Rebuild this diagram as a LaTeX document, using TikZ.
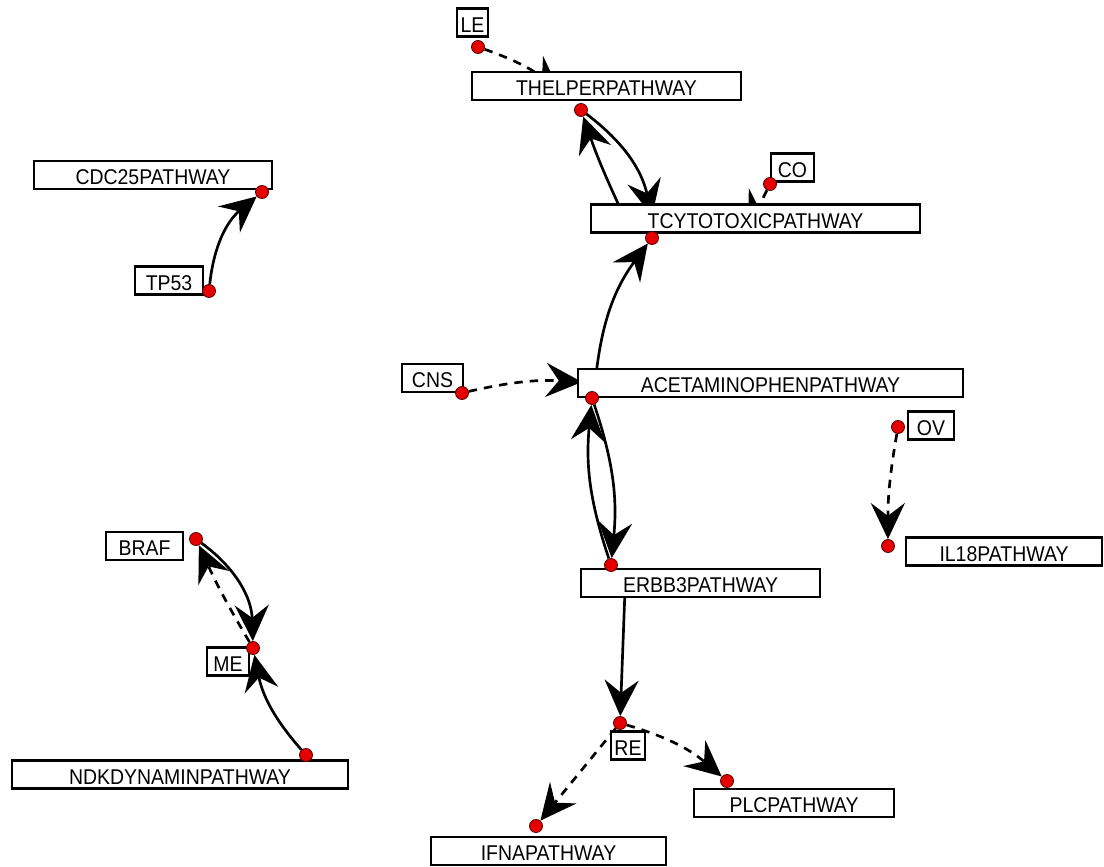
\documentclass[tikz,border=0pt]{standalone}
\usepackage{fontspec}
\setmainfont{Liberation Sans}[FakeStretch=0.91]
\usetikzlibrary{arrows.meta}
\pgfdeclarelayer{back}
\pgfsetlayers{back,main}
\def\px{0.025cm}

\tikzset{
  pbox/.style={draw, fill=white, line width=1.6pt, inner sep=0pt,
    minimum height=28*\px, minimum width=#1*\px,
    text height=14.2pt, text depth=0pt,
    font=\fontsize{15.2}{16}\selectfont},
  pdot/.style={circle, draw=red!35!black, fill=red!90!black,
    line width=0.6pt, inner sep=0pt, minimum size=13*\px},
  link/.style={line width=1.9pt,
    -{Stealth[length=0.9cm,width=0.85cm,inset=0.32cm]}},
  dlink/.style={link, dash pattern=on 6pt off 5pt}
}

\begin{document}
\begin{tikzpicture}[x=\px, y=-\px]
\useasboundingbox (0,0) rectangle (1104,867);

% boxes
\node[pbox=31]  (le)      at (472.5,22.5) {LE};
\node[pbox=269] (thelper) at (606.5,86)   {THELPERPATHWAY};
\node[pbox=43]  (co)      at (792.5,167.5){CO};
\node[pbox=329] (tcyto)   at (755.5,218.5){TCYTOTOXICPATHWAY};
\node[pbox=238] (cdc)     at (153,175)    {CDC25PATHWAY};
\node[pbox=68]  (tp)      at (169,280.5)  {TP53};
\node[pbox=61]  (cns)     at (432.5,378)  {CNS};
\node[pbox=385] (acet)    at (770.5,383)  {ACETAMINOPHENPATHWAY};
\node[pbox=46]  (ov)      at (931,425.5)  {OV};
\node[pbox=196] (il)      at (1004,551.5) {IL18PATHWAY};
\node[pbox=77]  (braf)    at (144.5,546)  {BRAF};
\node[pbox=42]  (me)      at (228,661.5)  {ME};
\node[pbox=336] (ndk)     at (180,774.5)  {NDKDYNAMINPATHWAY};
\node[pbox=239] (erbb)    at (700.5,583)  {ERBB3PATHWAY};
\node[pbox=34]  (re)      at (628,745.5)  {RE};
\node[pbox=200] (plc)     at (794,803)    {PLCPATHWAY};
\node[pbox=235] (ifna)    at (548.5,851)  {IFNAPATHWAY};

% dots
\node[pdot] (dle)      at (478,47)  {};
\node[pdot] (dthelper) at (581,110) {};
\node[pdot] (dco)      at (770,184) {};
\node[pdot] (dtcyto)   at (652,238) {};
\node[pdot] (dcdc)     at (262,192) {};
\node[pdot] (dtp)      at (209,291) {};
\node[pdot] (dcns)     at (462,393) {};
\node[pdot] (dacet)    at (592,398) {};
\node[pdot] (dov)      at (898,427) {};
\node[pdot] (dil)      at (888,546) {};
\node[pdot] (dbraf)    at (196,539) {};
\node[pdot] (dme)      at (253,648) {};
\node[pdot] (dndk)     at (306,755) {};
\node[pdot] (derbb)    at (611,565) {};
\node[pdot] (dre)      at (620,723) {};
\node[pdot] (dplc)     at (727,781) {};
\node[pdot] (difna)    at (536,826) {};

% ends hidden behind boxes
\coordinate (thelperin) at (560,92);
\coordinate (tcytoinA)  at (652,216);
\coordinate (tcytoinB)  at (622,212);
\coordinate (tcytoinC)  at (748,228);
\coordinate (acetinA)   at (582,382);
\coordinate (acetinB)   at (596,375);
\coordinate (erbbin)    at (625,590);

\begin{pgfonlayer}{back}
\draw[dlink] (dle) to[bend left=10] (thelperin);
\draw[link] (dthelper) to[bend left=20] (tcytoinA);
\draw[link] (tcytoinB) to[bend left=3] (dthelper);
\draw[dlink] (dco) -- (tcytoinC);
\draw[link] (acetinB) to[bend left=15] (dtcyto);
\draw[dlink] (dcns) to[bend left=8] (acetinA);
\draw[link] (dacet) to[bend left=12] (derbb);
\draw[link] (derbb) to[bend left=12] (dacet);
\draw[link] (erbbin) -- (dre);
\draw[dlink] (dre) to[bend left=12] (dplc);
\draw[dlink] (dre) -- (difna);
\draw[dlink] (dov) to[bend right=5] (dil);
\draw[link] (dtp) to[bend left=22] (dcdc);
\draw[link] (dbraf) to[bend left=26] (dme);
\draw[dlink] (dme) to[bend left=3] (dbraf);
\draw[link] (dndk) to[bend left=15] (dme);
\end{pgfonlayer}
\end{tikzpicture}
\end{document}
